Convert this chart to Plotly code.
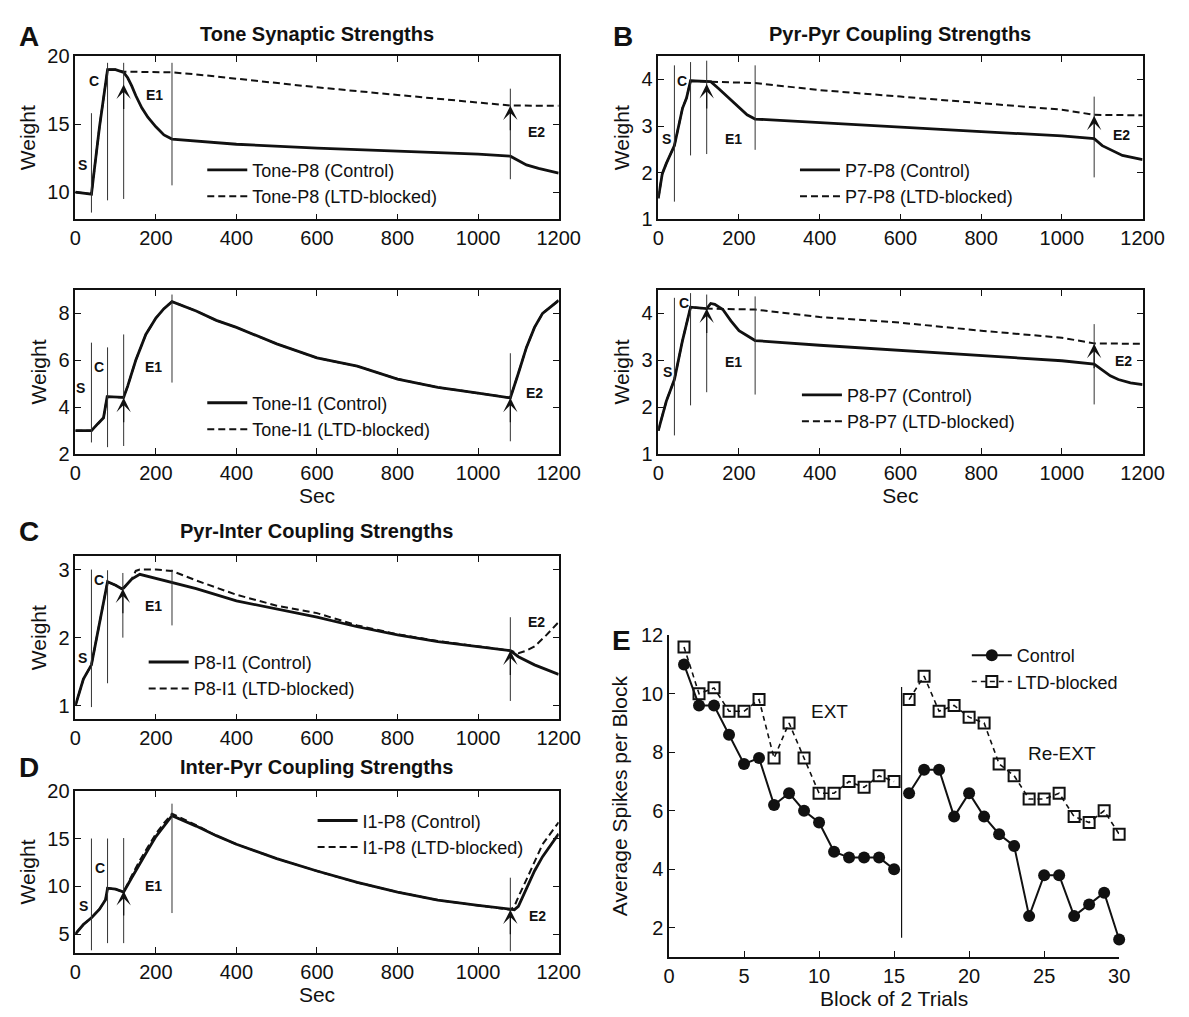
import plotly.graph_objects as go

# ---------------- data ----------------
# Panel A (top): Tone-P8
tA1_ctrl = [0, 40, 45, 60, 80, 100, 120, 130, 140, 150, 165, 180, 200, 220, 240, 400, 600, 800, 1000, 1080, 1100, 1120, 1150, 1200]
A1_ctrl = [10.0, 9.85, 11.1, 14.8, 19.0, 19.0, 18.8, 18.4, 17.8, 17.1, 16.2, 15.5, 14.8, 14.2, 13.9, 13.52, 13.24, 13.0, 12.8, 12.64, 12.3, 12.0, 11.75, 11.4]
tA1_ltd = [0, 40, 45, 60, 80, 100, 120, 240, 300, 400, 600, 800, 1000, 1080, 1200]
A1_ltd = [10.0, 9.85, 11.1, 14.8, 19.0, 19.0, 18.85, 18.8, 18.65, 18.33, 17.7, 17.14, 16.6, 16.36, 16.35]

# Panel A (bottom): Tone-I1
tA2 = [0, 40, 56, 70, 79, 100, 120, 130, 150, 175, 200, 220, 240, 300, 350, 400, 500, 600, 700, 800, 900, 1000, 1080, 1100, 1120, 1140, 1160, 1200]
A2_ctrl = [3.0, 3.0, 3.3, 3.55, 4.45, 4.45, 4.42, 4.9, 6.0, 7.1, 7.8, 8.2, 8.5, 8.1, 7.7, 7.4, 6.7, 6.1, 5.75, 5.2, 4.85, 4.6, 4.4, 5.45, 6.55, 7.4, 8.0, 8.55]
A2_ltd = [3.0, 3.0, 3.3, 3.55, 4.45, 4.45, 4.42, 4.9, 6.0, 7.1, 7.8, 8.2, 8.5, 8.1, 7.7, 7.4, 6.7, 6.1, 5.75, 5.2, 4.85, 4.6, 4.4, 5.45, 6.55, 7.4, 8.0, 8.55]

# Panel B (top): P7-P8
tB1_ctrl = [0, 10, 20, 40, 60, 70, 80, 120, 130, 150, 175, 200, 220, 240, 400, 600, 800, 1000, 1080, 1100, 1120, 1150, 1200]
B1_ctrl = [1.45, 1.98, 2.2, 2.58, 3.38, 3.6, 3.97, 3.95, 3.95, 3.8, 3.6, 3.38, 3.24, 3.15, 3.07, 2.98, 2.88, 2.79, 2.73, 2.58, 2.49, 2.37, 2.28]
tB1_ltd = [0, 10, 20, 40, 60, 70, 80, 120, 130, 240, 400, 600, 800, 1000, 1080, 1200]
B1_ltd = [1.45, 1.98, 2.2, 2.58, 3.38, 3.6, 3.97, 3.95, 3.95, 3.92, 3.77, 3.63, 3.49, 3.35, 3.24, 3.23]

# Panel B (bottom): P8-P7
tB2_ctrl = [0, 20, 40, 60, 80, 120, 130, 140, 160, 180, 200, 240, 400, 600, 800, 1000, 1080, 1100, 1120, 1140, 1170, 1200]
B2_ctrl = [1.5, 2.13, 2.59, 3.42, 4.13, 4.1, 4.21, 4.19, 4.08, 3.84, 3.63, 3.42, 3.32, 3.21, 3.09, 2.99, 2.92, 2.8, 2.67, 2.59, 2.52, 2.48]
tB2_ltd = [0, 20, 40, 60, 80, 120, 240, 400, 600, 800, 1000, 1080, 1200]
B2_ltd = [1.5, 2.13, 2.59, 3.42, 4.13, 4.1, 4.08, 3.92, 3.8, 3.63, 3.48, 3.36, 3.35]

# Panel C: P8-I1
tC_ctrl = [0, 20, 40, 55, 70, 80, 100, 115, 120, 140, 160, 180, 200, 240, 300, 400, 500, 600, 700, 800, 900, 1000, 1080, 1100, 1140, 1170, 1200]
C_ctrl = [1.0, 1.39, 1.6, 2.06, 2.54, 2.82, 2.77, 2.72, 2.73, 2.86, 2.93, 2.9, 2.88, 2.82, 2.72, 2.54, 2.42, 2.3, 2.16, 2.04, 1.94, 1.87, 1.81, 1.72, 1.6, 1.53, 1.46]
tC_ltd = [0, 20, 40, 55, 70, 80, 100, 115, 120, 140, 150, 160, 200, 240, 300, 400, 500, 600, 700, 800, 900, 1000, 1080, 1100, 1120, 1140, 1170, 1200]
C_ltd = [1.0, 1.39, 1.6, 2.06, 2.54, 2.82, 2.77, 2.72, 2.73, 2.86, 2.98, 3.0, 3.0, 2.98, 2.84, 2.63, 2.47, 2.36, 2.18, 2.05, 1.95, 1.87, 1.81, 1.77, 1.81, 1.87, 2.04, 2.23]

# Panel D: I1-P8
tD = [0, 20, 40, 60, 75, 80, 100, 120, 140, 160, 180, 200, 220, 240, 300, 350, 400, 500, 600, 700, 800, 900, 1000, 1080, 1090, 1100, 1120, 1140, 1160, 1200]
D_ctrl = [5.0, 6.0, 6.7, 7.6, 8.6, 9.8, 9.7, 9.4, 10.9, 12.4, 13.8, 15.2, 16.3, 17.4, 16.3, 15.3, 14.4, 12.9, 11.6, 10.4, 9.4, 8.55, 8.0, 7.55, 7.55, 7.9, 9.7, 11.6, 13.1, 15.5]
D_ltd = [5.0, 6.0, 6.7, 7.6, 8.6, 9.8, 9.7, 9.4, 11.1, 12.7, 14.1, 15.5, 16.6, 17.6, 16.4, 15.3, 14.4, 12.9, 11.6, 10.4, 9.4, 8.55, 8.0, 7.55, 7.9, 8.9, 10.7, 12.6, 14.4, 16.7]

# Panel E: spikes per block
blocks_ext = list(range(1, 16))
blocks_reext = list(range(16, 31))
E_ctrl_ext = [11.0, 9.6, 9.6, 8.6, 7.6, 7.8, 6.2, 6.6, 6.0, 5.6, 4.6, 4.4, 4.4, 4.4, 4.0]
E_ctrl_reext = [6.6, 7.4, 7.4, 5.8, 6.6, 5.8, 5.2, 4.8, 2.4, 3.8, 3.8, 2.4, 2.8, 3.2, 1.6]
E_ltd_ext = [11.6, 10.0, 10.2, 9.4, 9.4, 9.8, 7.8, 9.0, 7.8, 6.6, 6.6, 7.0, 6.8, 7.2, 7.0]
E_ltd_reext = [9.8, 10.6, 9.4, 9.6, 9.2, 9.0, 7.6, 7.2, 6.4, 6.4, 6.6, 5.8, 5.6, 6.0, 5.2]
E_split = 15.5
E_split_span = [1.66, 10.23]

# Protocol event lines (time, y-start, y-end) and arrow tips (time, y)
events = {
    "A1": [(40, 8.5, 15.8), (80, 9.4, 19.5), (120, 9.5, 19.5), (240, 10.5, 19.5), (1080, 10.95, 17.6)],
    "A2": [(40, 2.5, 6.75), (80, 2.3, 6.55), (120, 2.35, 7.1), (240, 5.05, 8.8), (1080, 2.55, 6.3)],
    "B1": [(40, 1.38, 4.3), (80, 2.37, 4.37), (120, 2.4, 4.4), (240, 2.49, 4.3), (1080, 1.9, 3.63)],
    "B2": [(40, 1.4, 4.33), (80, 2.04, 4.43), (120, 2.32, 4.4), (240, 2.27, 4.36), (1080, 2.06, 3.77)],
    "C": [(40, 0.98, 3.0), (80, 1.33, 2.99), (118, 2.0, 2.95), (240, 2.18, 3.0), (1080, 1.07, 2.3)],
    "D": [(40, 3.3, 15.0), (80, 4.05, 15.0), (120, 4.05, 15.05), (240, 7.2, 18.65), (1080, 3.2, 10.9)],
}
arrows = {
    "A1": [(120, 17.9), (1080, 16.35)],
    "A2": [(120, 4.4), (1080, 4.4)],
    "B1": [(120, 3.9), (1080, 3.22)],
    "B2": [(120, 4.1), (1080, 3.35)],
    "C": [(118, 2.72), (1080, 1.81)],
    "D": [(120, 9.5), (1080, 7.55)],
}
phase_labels = ["S", "C", "E1", "E2"]
phase_pos = {
    "A1": [(19, 12.0), (47, 18.2), (196, 17.1), (1145, 14.4)],
    "A2": [(14, 4.8), (60, 5.7), (195, 5.7), (1140, 4.6)],
    "B1": [(21, 2.72), (59, 3.97), (187, 2.72), (1148, 2.8)],
    "B2": [(23, 2.76), (64, 4.22), (187, 2.96), (1152, 2.98)],
    "C": [(17, 1.7), (58, 2.84), (193, 2.46), (1145, 2.23)],
    "D": [(21, 7.9), (62, 11.9), (195, 10.0), (1147, 6.85)],
}

# ---------------- layout helpers ----------------
W, H = 1189, 1017
FONT = "Liberation Sans, Arial, Helvetica, sans-serif"
TICK = 20
TITLE = 21
LEG = 18

def xd(x0, x1):
    return [x0 / W, x1 / W]

def yd(top, bot):
    return [1 - bot / H, 1 - top / H]

panels = {
    "A1": (1, (71, 566), (46, 213), [8, 20], [10, 15, 20], "legend", (201, 176)),
    "A2": (2, (71, 566), (285, 453), [2, 9], [2, 4, 6, 8], "legend2", (201, 414)),
    "B1": (3, (668, 1164), (46, 213), [1, 4.5], [1, 2, 3, 4], "legend3", (808, 176)),
    "B2": (4, (668, 1164), (285, 453), [1, 4.5], [1, 2, 3, 4], "legend4", (810, 406)),
    "C": (5, (71, 566), (557, 724), [0.8, 3.2], [1, 2, 3], "legend5", (141, 679)),
    "D": (6, (71, 566), (797, 963), [3, 20], [5, 10, 15, 20], "legend6", (314, 841)),
}
names = {
    "A1": "Tone-P8", "A2": "Tone-I1", "B1": "P7-P8", "B2": "P8-P7", "C": "P8-I1", "D": "I1-P8",
}
series = {
    "A1": (tA1_ctrl, A1_ctrl, tA1_ltd, A1_ltd),
    "A2": (tA2, A2_ctrl, tA2, A2_ltd),
    "B1": (tB1_ctrl, B1_ctrl, tB1_ltd, B1_ltd),
    "B2": (tB2_ctrl, B2_ctrl, tB2_ltd, B2_ltd),
    "C": (tC_ctrl, C_ctrl, tC_ltd, C_ltd),
    "D": (tD, D_ctrl, tD, D_ltd),
}
sec_title = {"A2", "B2", "D"}

fig = go.Figure()
layout = dict(
    width=W, height=H, margin=dict(l=0, r=0, t=0, b=0),
    paper_bgcolor="white", plot_bgcolor="white",
    font=dict(family=FONT, color="#111", size=TICK),
    shapes=[], annotations=[],
)

DASH = "7px,4px"

for key, (i, xpx, ypx, yr, ytv, legname, legpos) in panels.items():
    xa = "x" if i == 1 else f"x{i}"
    ya = "y" if i == 1 else f"y{i}"
    xk = "xaxis" if i == 1 else f"xaxis{i}"
    yk = "yaxis" if i == 1 else f"yaxis{i}"
    tc, vc, tl, vl = series[key]
    nm = names[key]
    fig.add_trace(go.Scatter(x=tc, y=vc, mode="lines", name=f"{nm} (Control)",
                             line=dict(color="#111", width=2.8), xaxis=xa, yaxis=ya, legend=legname))
    fig.add_trace(go.Scatter(x=tl, y=vl, mode="lines", name=f"{nm} (LTD-blocked)",
                             line=dict(color="#111", width=2.0, dash=DASH), xaxis=xa, yaxis=ya, legend=legname))
    layout[xk] = dict(domain=xd(*xpx), anchor=ya, range=[0, 1200], tickvals=list(range(0, 1201, 200)),
                      ticks="inside", ticklen=6, tickwidth=1, tickcolor="#111", mirror="allticks",
                      showline=True, linecolor="#111", linewidth=1.5, showgrid=False, zeroline=False,
                      tickfont=dict(size=TICK))
    if key in sec_title:
        layout[xk]["title"] = dict(text="Sec", font=dict(size=TITLE), standoff=4)
    layout[yk] = dict(domain=yd(*ypx), anchor=xa, range=yr, tickvals=ytv,
                      ticks="inside", ticklen=6, tickwidth=1, tickcolor="#111", mirror="allticks",
                      showline=True, linecolor="#111", linewidth=1.5, showgrid=False, zeroline=False,
                      tickfont=dict(size=TICK), title=dict(text="Weight", font=dict(size=TITLE), standoff=6))
    layout[legname] = dict(x=legpos[0] / W, y=1 - legpos[1] / H, xanchor="left", yanchor="middle",
                           bgcolor="rgba(0,0,0,0)", font=dict(size=LEG, family=FONT),
                           tracegroupgap=0, itemwidth=40)
    for (t, y0, y1) in events[key]:
        layout["shapes"].append(dict(type="line", xref=xa, yref=ya, x0=t, x1=t, y0=y0, y1=y1,
                                     line=dict(color="#333", width=1)))
    for (t, tip) in arrows[key]:
        layout["annotations"].append(dict(xref=xa, yref=ya, x=t, y=tip, ax=0, ay=26, text="",
                                          showarrow=True, arrowhead=3, arrowsize=2.0, arrowwidth=1.2,
                                          arrowcolor="#111", standoff=0))
    for lab, (t, y) in zip(phase_labels, phase_pos[key]):
        layout["annotations"].append(dict(xref=xa, yref=ya, x=t, y=y, text=f"<b>{lab}</b>",
                                          showarrow=False, font=dict(size=14, family=FONT, color="#111")))

# Panel E
fig.add_trace(go.Scatter(x=blocks_ext + [None] + blocks_reext, y=E_ctrl_ext + [None] + E_ctrl_reext,
                         mode="lines+markers", name="Control", connectgaps=False, cliponaxis=False,
                         line=dict(color="#111", width=2),
                         marker=dict(symbol="circle", size=12, color="#111"),
                         xaxis="x7", yaxis="y7", legend="legend7"))
fig.add_trace(go.Scatter(x=blocks_ext + [None] + blocks_reext, y=E_ltd_ext + [None] + E_ltd_reext,
                         mode="lines+markers", name="LTD-blocked", connectgaps=False, cliponaxis=False,
                         line=dict(color="#111", width=1.6, dash="5px,4px"),
                         marker=dict(symbol="square-open", size=11, color="#111", line=dict(width=2)),
                         xaxis="x7", yaxis="y7", legend="legend7"))
layout["xaxis7"] = dict(domain=xd(679, 1140), anchor="y7", range=[0, 30], tickvals=list(range(0, 31, 5)),
                        ticks="inside", ticklen=6, tickcolor="#111", showline=True, linecolor="#111",
                        linewidth=1.5, showgrid=False, zeroline=False, tickfont=dict(size=TICK),
                        title=dict(text="Block of 2 Trials", font=dict(size=TITLE), standoff=4))
layout["yaxis7"] = dict(domain=yd(638, 967), anchor="x7", range=[1, 12], tickvals=list(range(2, 13, 2)),
                        ticks="inside", ticklen=6, tickcolor="#111", showline=True, linecolor="#111",
                        linewidth=1.5, showgrid=False, zeroline=False, tickfont=dict(size=TICK),
                        title=dict(text="Average Spikes per Block", font=dict(size=TITLE), standoff=8))
layout["legend7"] = dict(x=984 / W, y=1 - 672 / H, xanchor="left", yanchor="middle",
                         bgcolor="rgba(0,0,0,0)", font=dict(size=LEG, family=FONT), itemwidth=40)
layout["shapes"].append(dict(type="line", xref="x7", yref="y7", x0=E_split, x1=E_split,
                             y0=E_split_span[0], y1=E_split_span[1], line=dict(color="#111", width=1.2)))
layout["annotations"].append(dict(xref="x7", yref="y7", x=10.7, y=9.4, text="EXT", showarrow=False,
                                  font=dict(size=19, family=FONT, color="#111")))
layout["annotations"].append(dict(xref="x7", yref="y7", x=26.2, y=7.95, text="Re-EXT", showarrow=False,
                                  font=dict(size=19, family=FONT, color="#111")))

# Panel titles and letters
titles = [
    ("Tone Synaptic Strengths", 318, 24),
    ("Pyr-Pyr Coupling Strengths", 916, 24),
    ("Pyr-Inter Coupling Strengths", 318, 531),
    ("Inter-Pyr Coupling Strengths", 318, 773),
]
for txt, px, py in titles:
    layout["annotations"].append(dict(xref="paper", yref="paper", x=px / W, y=1 - py / H, text=f"<b>{txt}</b>",
                                      showarrow=False, xanchor="center", yanchor="middle",
                                      font=dict(size=20, family=FONT, color="#111")))
letters = [("A", 24, 26), ("B", 632, 26), ("C", 24, 532), ("D", 24, 773), ("E", 630, 643)]
for txt, px, py in letters:
    layout["annotations"].append(dict(xref="paper", yref="paper", x=px / W, y=1 - py / H, text=f"<b>{txt}</b>",
                                      showarrow=False, xanchor="center", yanchor="middle",
                                      font=dict(size=28, family=FONT, color="#111")))

fig.update_layout(**layout)
fig.write_html("out.html", config={"displayModeBar": False})

# remove default page margins so the figure sits at (0,0)
with open("out.html", "r", encoding="utf-8") as f:
    html = f.read()
html = html.replace("<head>", "<head><style>html,body{margin:0;padding:0;overflow:hidden;}</style>", 1)
with open("out.html", "w", encoding="utf-8") as f:
    f.write(html)
